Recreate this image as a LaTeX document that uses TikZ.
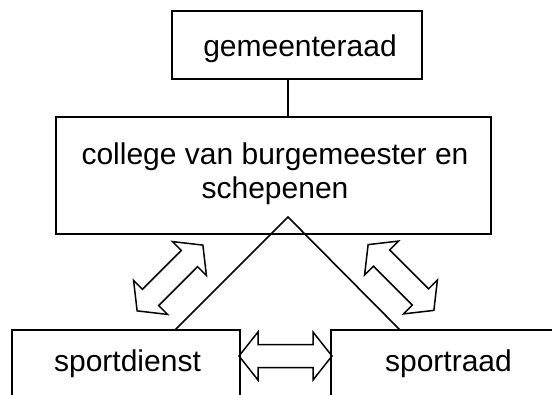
\documentclass[tikz,border=0pt]{standalone}
\usepackage{fontspec}
\setmainfont{Liberation Sans}
\tikzset{
  box/.style={draw, rectangle, inner sep=0pt, line width=1.6pt},
  lbl/.style={inner sep=0pt, align=center, font=\fontsize{30}{34}\selectfont},
  fatarrow/.pic={
    \draw[line width=1.5pt, line join=miter] (-46.5,0) -- (-27.5,24) -- (-27.5,11.5) -- (27.5,11.5) -- (27.5,24)
      -- (46.5,0) -- (27.5,-24) -- (27.5,-11.5) -- (-27.5,-11.5) -- (-27.5,-24) -- cycle;
  }
}
\begin{document}
\begin{tikzpicture}[x=1pt, y=-1pt, line width=1.6pt]
        \useasboundingbox (0,0) rectangle (552,394);
        \clip (0,0) rectangle (552,394);
        \node[box, minimum width=250pt, minimum height=68pt] (gemeenteraad) at (297,45) {};
        \node[box, minimum width=435pt, minimum height=117pt] (college) at (273.5,175.5) {};
        \node[box, minimum width=228pt, minimum height=90pt] (sportdienst) at (126,375) {}; % runs off the bottom
        \node[box, minimum width=235pt, minimum height=90pt] (sportraad) at (448.5,375) {};
        \node[lbl, anchor=base] (gemeenteraadlbl) at (300,56) {gemeenteraad};
        \node[lbl, anchor=north] (collegelbl) at (275,141.5) {college van burgemeester en\\schepenen};
        \node[lbl, anchor=base] (sportdienstlbl) at (127.5,371) {sportdienst};
        \node[lbl, anchor=base] (sportraadlbl) at (448.5,371) {sportraad};
        \coordinate (apex) at (288,217);  % top of the two legs
        \coordinate (legL) at (175,330);
        \coordinate (legR) at (400,330);
        \draw (apex |- gemeenteraad.south) -- (apex |- college.north);
        \draw (legL) -- (apex) -- (legR);
        \pic at (285.5,356) {fatarrow};
        \pic[rotate=45] at (170,278) {fatarrow};
        \pic[rotate=-45] at (401,277.5) {fatarrow};
    \end{tikzpicture}
\end{document}
